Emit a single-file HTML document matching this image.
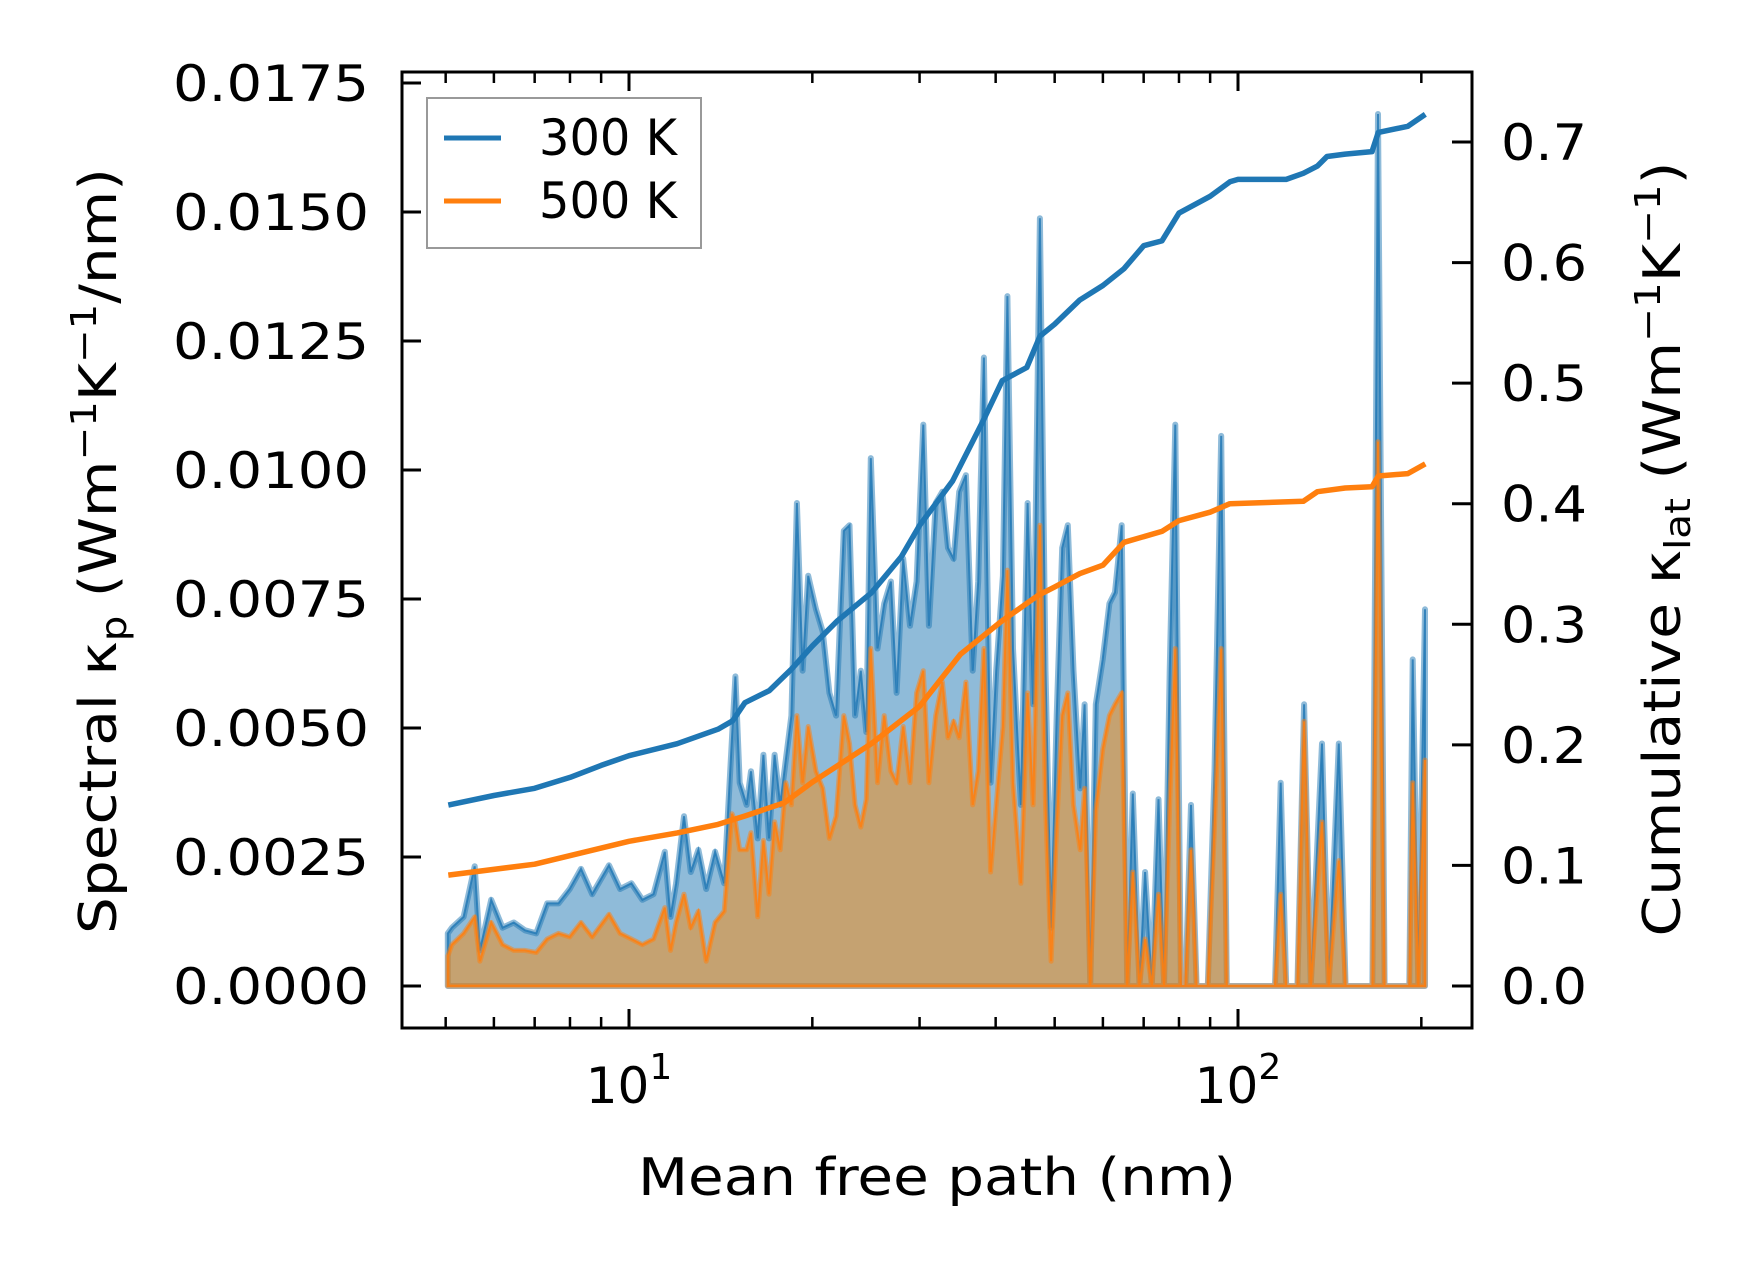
<!DOCTYPE html>
<html><head><meta charset="utf-8"><style>
html,body{margin:0;padding:0;background:#fff;}
svg{display:block;font-family:"DejaVu Sans","Liberation Sans",sans-serif;}
</style></head><body>
<svg id="chart" width="1753" height="1267" viewBox="0 0 1753 1267" xmlns="http://www.w3.org/2000/svg">
<rect width="1753" height="1267" fill="#fff"/>
<g id="plot"></g>
</svg>
<script>
const mfp = [5.04,5.12,5.35,5.58,5.69,5.94,6.20,6.47,6.75,7.04,7.34,7.66,7.99,8.34,8.70,9.27,9.67,10.09,10.52,10.97,11.45,11.70,11.95,12.31,12.63,13.00,13.39,13.85,14.33,14.76,14.95,15.20,15.60,15.86,16.27,16.62,16.98,17.34,17.71,18.09,18.48,18.87,19.28,19.69,20.28,20.80,21.33,21.88,22.53,23.02,23.51,24.02,24.53,24.95,25.59,26.25,26.92,27.50,28.20,28.93,29.67,30.43,31.08,31.89,32.71,33.41,34.12,34.85,35.75,36.67,37.45,38.26,39.24,40.08,41.11,41.82,42.71,44.00,45.13,46.09,47.28,48.29,49.32,50.38,51.45,52.55,53.68,55.06,56.00,57.20,58.42,59.95,61.49,62.81,64.42,65.77,67.18,68.90,70.37,72.19,74.05,75.63,77.25,78.90,80.59,81.97,83.72,85.51,89.21,91.50,93.85,95.85,98.31,115.0,117.5,120.0,125.2,128.4,131.7,137.4,140.9,146.4,150.2,166.2,169.8,174.1,191.1,193.6,197.7,202.8];
const spec300 = [1.02,1.13,1.34,2.32,0.69,1.67,1.13,1.23,1.08,1.02,1.60,1.60,1.88,2.27,1.78,2.34,1.88,1.99,1.67,1.78,2.60,1.34,1.99,3.29,2.21,2.64,1.88,2.60,1.99,4.81,6.00,3.94,3.51,4.16,2.86,4.48,2.86,4.48,3.51,4.38,5.24,9.36,6.11,7.95,7.30,6.87,5.68,5.24,8.82,8.93,5.24,6.11,4.92,10.23,6.54,7.41,7.84,5.68,8.28,6.98,7.84,10.88,6.98,9.36,9.58,8.49,8.28,9.58,9.90,6.11,7.84,12.18,3.94,6.11,7.95,13.37,6.54,3.51,9.36,5.46,14.88,6.11,1.13,5.24,8.49,8.93,6.11,3.83,5.46,0,5.46,6.33,7.41,7.63,8.93,0,3.73,0,2.21,0,3.62,0,6.11,10.88,0,0,3.51,0,0,4.16,10.66,0,0,0,3.94,0,0,5.46,0,4.70,0,4.70,0,0,16.90,0,0,6.33,0,7.30];
const spec500 = [0.58,0.80,1.02,1.34,0.48,1.23,0.80,0.69,0.69,0.65,0.91,1.02,0.95,1.23,0.95,1.39,1.02,0.91,0.80,0.91,1.52,0.69,1.23,1.78,1.13,1.45,0.48,1.23,1.45,3.34,3.18,2.64,2.64,2.97,1.34,2.82,1.78,3.18,2.64,3.94,3.51,5.24,3.94,5.03,4.16,3.83,2.86,3.29,5.24,4.70,3.51,3.08,3.62,6.54,3.94,5.24,4.16,3.94,5.03,3.94,5.68,6.11,3.94,5.24,5.89,4.81,5.13,4.81,5.89,3.51,4.16,6.54,2.21,3.51,5.03,8.06,3.94,1.99,5.68,3.51,8.93,3.51,0.48,3.08,5.24,5.68,3.51,2.64,3.83,0,3.40,4.59,5.24,5.46,5.68,0,2.21,0,0.91,0,1.78,0,3.51,6.54,0,0,2.64,0,0,3.08,6.54,0,0,0,1.78,0,0,5.13,0,3.18,0,2.43,0,0,10.55,0,0,3.94,0,4.38];
const cumMfp300 = [5.05,6,7,8,9,10,12,14,14.8,15.5,17,18.5,20,22,25,28,30,34,38,41,45,47.3,50,55,60,65,70,75,80,90,97,100,120,128,135,140,150,166,170,190,203];
const cum300 = [0.150,0.158,0.164,0.173,0.183,0.191,0.201,0.213,0.220,0.235,0.245,0.263,0.282,0.303,0.326,0.356,0.382,0.419,0.467,0.502,0.513,0.539,0.549,0.569,0.581,0.595,0.614,0.618,0.641,0.655,0.667,0.669,0.669,0.674,0.680,0.688,0.690,0.692,0.708,0.713,0.723];
const cumMfp500 = [5.05,7,10,12,14,15.5,18,20,25,30,35,41,47,50,55,60,65,75,80,90,97,128,135,150,166,170,190,203];
const cum500 = [0.092,0.101,0.120,0.127,0.134,0.141,0.152,0.169,0.201,0.232,0.275,0.303,0.324,0.331,0.342,0.349,0.368,0.377,0.386,0.393,0.400,0.402,0.410,0.413,0.414,0.423,0.425,0.433];
const leftTicks = ["0.0000","0.0025","0.0050","0.0075","0.0100","0.0125","0.0150","0.0175"];
const rightTicks = ["0.0","0.1","0.2","0.3","0.4","0.5","0.6","0.7"];
const xMajor = [10,100];
const xMinor = [5,6,7,8,9,20,30,40,50,60,70,80,90,200];

const L=402,R=1472,T=72,B=1028;
const xs = v => 629 + (Math.log10(v)-1)*609;
const yl = v => 986 - v/0.0175*903;
const yr = v => 986 - v/0.7*844;
const NS="http://www.w3.org/2000/svg";
const g=document.getElementById('plot');
function mk(tag,attrs,parent){const e=document.createElementNS(NS,tag);for(const k in attrs)e.setAttribute(k,attrs[k]);(parent||g).appendChild(e);return e;}

function specPath(vals){
  let d='M'+xs(mfp[0])+','+yl(0);
  mfp.forEach((m,i)=>{d+=' L'+xs(m).toFixed(1)+','+yl(vals[i]*1e-3).toFixed(1);});
  d+=' L'+xs(mfp[mfp.length-1])+','+yl(0)+' Z';return d;}
function linePath(xa,ya,fy){return xa.map((m,i)=>(i?'L':'M')+xs(m).toFixed(1)+','+fy(ya[i]).toFixed(1)).join(' ');}

const f3=mk('path',{d:specPath(spec300),fill:'#1f77b4','fill-opacity':0.5,stroke:'#1f77b4','stroke-opacity':0.5,'stroke-width':6,'stroke-linejoin':'round'});


const l3=mk('path',{d:specPath(spec300),fill:'none',stroke:'#1f77b4','stroke-width':2,'stroke-opacity':0.8});


const f5=mk('path',{d:specPath(spec500),fill:'#f28e1c','fill-opacity':0.55,stroke:'#ff7f0e','stroke-opacity':0.5,'stroke-width':5,'stroke-linejoin':'round'});


const l5=mk('path',{d:specPath(spec500),fill:'none',stroke:'#ff7f0e','stroke-width':2,'stroke-opacity':0.85});


const c3=mk('path',{d:linePath(cumMfp300,cum300,yr),fill:'none',stroke:'#1f77b4','stroke-width':5.5,'stroke-linejoin':'round'});


const c5=mk('path',{d:linePath(cumMfp500,cum500,yr),fill:'none',stroke:'#ff7f0e','stroke-width':5.5,'stroke-linejoin':'round'});



const fr=mk('rect',{x:L,y:T,width:R-L,height:B-T,fill:'none',stroke:'#000','stroke-width':3});



function txt(s,x,y,anchor,size,len,parent){const t=mk('text',{x:x,y:y,'text-anchor':anchor,'font-size':size,fill:'#000'},parent);t.textContent=s;if(len){t.setAttribute('textLength',len);t.setAttribute('lengthAdjust','spacingAndGlyphs');}return t;}

leftTicks.forEach((s,i)=>{const v=i*0.0025;const y=yl(v);
  const tk=mk('line',{x1:L,x2:L+19,y1:y,y2:y,stroke:'#000','stroke-width':3});
  
  
  const t=txt(s,369,y+18,'end',50,196);
  
  });
rightTicks.forEach((s,i)=>{const v=i*0.1;const y=yr(v);
  const tk=mk('line',{x1:R-20,x2:R,y1:y,y2:y,stroke:'#000','stroke-width':3});
  
  
  const t=txt(s,1501,y+18,'start',50,86);
  
  });
xMajor.forEach((v,i)=>{const x=xs(v);
  [[B,B-19],[T,T+19]].forEach(p=>{const tk=mk('line',{x1:x,x2:x,y1:p[0],y2:p[1],stroke:'#000','stroke-width':3});
    
    });
  const t=mk('text',{x:x,y:1103,'text-anchor':'middle','font-size':50,fill:'#000'});
  
  
  t.innerHTML='10<tspan dy="-24" font-size="36">'+(i+1)+'</tspan>';});
xMinor.forEach(v=>{const x=xs(v);
  [[B,B-11],[T,T+11]].forEach(p=>{const tk=mk('line',{x1:x,x2:x,y1:p[0],y2:p[1],stroke:'#000','stroke-width':2.5});
    
    });});

const xl=txt('Mean free path (nm)',937,1195,'middle',52,598);


const ylab=mk('text',{x:0,y:0,'text-anchor':'middle','font-size':52,fill:'#000',transform:'translate(116,551) rotate(-90)',textLength:766,lengthAdjust:'spacingAndGlyphs'});


ylab.innerHTML='Spectral κ<tspan dy="10" font-size="36">p</tspan><tspan dy="-10"> (Wm</tspan><tspan dy="-20" font-size="36">−1</tspan><tspan dy="20">K</tspan><tspan dy="-20" font-size="36">−1</tspan><tspan dy="20">/nm)</tspan>';
const yrl=mk('text',{x:0,y:0,'text-anchor':'middle','font-size':52,fill:'#000',transform:'translate(1680,549) rotate(-90)',textLength:775,lengthAdjust:'spacingAndGlyphs'});


yrl.innerHTML='Cumulative κ<tspan dy="10" font-size="36">lat</tspan><tspan dy="-10"> (Wm</tspan><tspan dy="-20" font-size="36">−1</tspan><tspan dy="20">K</tspan><tspan dy="-20" font-size="36">−1</tspan><tspan dy="20">)</tspan>';

const lg=mk('g',{});


mk('rect',{x:427,y:98,width:274,height:150,fill:'#fff','fill-opacity':0.8,stroke:'#999','stroke-width':2},lg);
[['300 K','#1f77b4',138],['500 K','#ff7f0e',201]].forEach(e=>{
  const en=mk('g',{},lg);
  
  
  mk('line',{x1:444,x2:501,y1:e[2],y2:e[2],stroke:e[1],'stroke-width':5},en);
  txt(e[0],539,e[2]+17,'start',50,138,en);});
</script>
</body></html>
